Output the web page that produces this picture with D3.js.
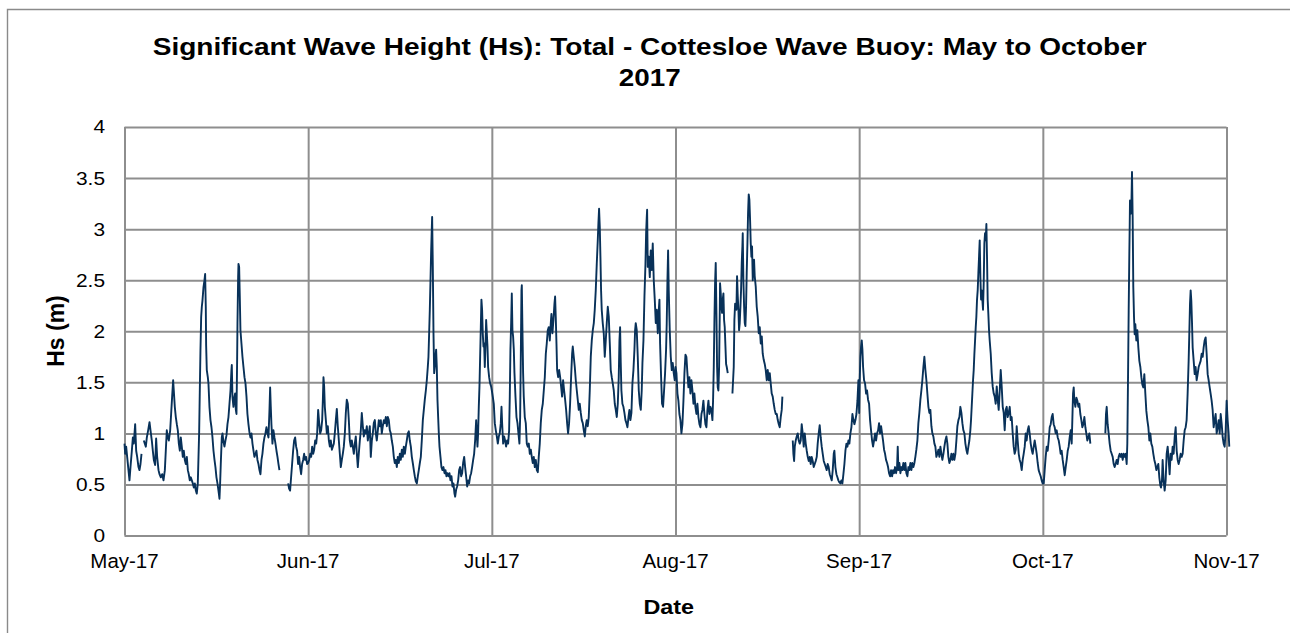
<!DOCTYPE html>
<html>
<head>
<meta charset="utf-8">
<title>Significant Wave Height - Cottesloe Wave Buoy</title>
<script src="https://cdn.jsdelivr.net/npm/d3@7"></script>
<style>
  html, body { margin: 0; padding: 0; background: #ffffff; }
  svg { display: block; font-family: "Liberation Sans", Arial, Helvetica, sans-serif; }
</style>
</head>
<body>
<svg id="chart" width="1290" height="633"></svg>
<script>
// Month boundaries on the date axis and their labels
const monthStarts = ["2017-05-01", "2017-06-01", "2017-07-01", "2017-08-01", "2017-09-01", "2017-10-01", "2017-11-01"];
const xTickLabels = ["May-17", "Jun-17", "Jul-17", "Aug-17", "Sep-17", "Oct-17", "Nov-17"];
const yTicks = [0, 0.5, 1, 1.5, 2, 2.5, 3, 3.5, 4];
const yTickLabels = ["0", "0.5", "1", "1.5", "2", "2.5", "3", "3.5", "4"];

// Hs readings per month: [days since the 1st of the month, Hs in metres]; null marks a data gap
const hsMay = [[0,0.90],[0.11,0.80],[0.28,0.87],[0.45,0.77],[0.67,0.64],[0.84,0.54],[1.01,0.67],[1.24,0.83],[1.41,0.96],[1.57,0.90],[1.80,1.09],[1.97,0.83],[2.14,0.77],[2.36,0.67],[2.53,0.64],[2.70,0.70],[2.87,0.80],[2.95,null],[3.26,0.93],[3.43,0.90],[3.60,0.87],[3.77,0.96],[3.99,1.03],[4.22,1.11],[4.39,1.03],[4.61,0.93],[4.78,0.83],[4.95,0.74],[5.17,0.69],[5.34,0.95],[5.51,0.77],[5.74,0.64],[5.91,0.60],[6.13,0.57],[6.36,0.60],[6.58,0.54],[6.81,0.64],[6.97,0.83],[7.14,1.03],[7.31,0.96],[7.48,0.93],[7.71,1.03],[7.87,1.19],[8.04,1.36],[8.21,1.52],[8.32,1.42],[8.49,1.26],[8.66,1.16],[8.83,1.09],[9.00,1.03],[9.17,0.90],[9.34,0.83],[9.50,0.96],[9.67,0.87],[9.84,0.77],[10.01,0.83],[10.18,0.74],[10.35,0.70],[10.52,0.77],[10.69,0.64],[10.85,0.60],[11.02,0.54],[11.19,0.57],[11.36,0.54],[11.53,0.51],[11.70,0.47],[11.87,0.51],[12.04,0.44],[12.20,0.41],[12.37,0.51],[12.49,0.77],[12.60,1.01],[12.71,1.42],[12.82,1.81],[12.94,2.14],[13.05,2.24],[13.16,2.30],[13.33,2.43],[13.50,2.50],[13.61,2.56],[13.72,2.24],[13.78,1.86],[13.89,1.62],[14.06,1.55],[14.17,1.49],[14.34,1.26],[14.51,1.13],[14.68,1.06],[14.85,0.96],[15.02,0.83],[15.19,0.74],[15.35,0.67],[15.52,0.57],[15.69,0.51],[15.86,0.44],[16.03,0.36],[16.14,0.51],[16.25,0.70],[16.42,0.96],[16.54,1.00],[16.70,0.92],[16.87,0.87],[17.04,0.93],[17.21,0.98],[17.38,1.09],[17.55,1.16],[17.72,1.29],[17.89,1.42],[18.05,1.62],[18.11,1.67],[18.22,1.36],[18.39,1.26],[18.56,1.36],[18.67,1.39],[18.79,1.23],[18.90,1.19],[19.01,1.72],[19.07,2.08],[19.18,2.53],[19.24,2.66],[19.35,2.63],[19.46,2.34],[19.57,2.01],[19.74,1.88],[19.91,1.75],[20.08,1.65],[20.25,1.55],[20.42,1.49],[20.59,1.36],[20.75,1.19],[20.92,1.09],[21.09,1.01],[21.26,0.96],[21.43,1.00],[21.60,0.90],[21.77,0.83],[21.93,0.77],[22.10,0.80],[22.27,0.83],[22.44,0.74],[22.61,0.70],[22.78,0.64],[22.95,0.60],[23.12,0.74],[23.28,0.80],[23.45,0.90],[23.62,0.96],[23.79,1.00],[23.96,1.06],[24.13,1.00],[24.30,0.96],[24.47,1.23],[24.58,1.45],[24.69,1.26],[24.80,1.09],[24.97,0.90],[25.14,1.03],[25.31,0.96],[25.48,0.90],[25.65,0.83],[25.82,0.77],[25.99,0.70],[26.15,0.64],[26.5,null],[27.62,0.51],[27.78,0.46],[27.95,0.44],[28.12,0.57],[28.29,0.70],[28.46,0.83],[28.63,0.93],[28.80,0.96],[28.97,0.87],[29.13,0.83],[29.30,0.70],[29.47,0.77],[29.64,0.67],[29.81,0.60],[29.98,0.70],[30.15,0.74],[30.32,0.80],[30.48,0.74],[30.65,0.77],[30.82,0.70]];

const hsJun = [[0,0.71],[0.16,0.74],[0.33,0.80],[0.49,0.77],[0.65,0.87],[0.82,0.80],[0.98,0.84],[1.14,0.93],[1.31,0.90],[1.47,1.00],[1.63,1.23],[1.80,1.10],[1.96,1.00],[2.12,1.03],[2.29,1.13],[2.40,1.33],[2.50,1.55],[2.61,1.46],[2.72,1.26],[2.89,1.13],[3.05,1.00],[3.21,1.07],[3.38,0.93],[3.54,0.87],[3.70,0.93],[3.87,0.84],[4.03,0.87],[4.19,0.90],[4.35,1.00],[4.52,1.13],[4.68,1.24],[4.84,1.07],[5.01,0.93],[5.17,0.80],[5.33,0.67],[5.50,0.74],[5.66,0.80],[5.82,0.87],[5.99,1.00],[6.15,1.20],[6.31,1.33],[6.48,1.29],[6.64,1.13],[6.80,0.93],[6.97,0.87],[7.13,0.93],[7.29,0.87],[7.46,0.80],[7.62,0.90],[7.78,0.97],[7.95,0.80],[8.11,0.67],[8.27,0.80],[8.44,0.93],[8.60,1.03],[8.76,1.20],[8.93,1.07],[9.09,0.97],[9.25,1.03],[9.42,1.00],[9.58,1.07],[9.74,0.93],[9.91,1.00],[10.07,1.07],[10.23,0.77],[10.40,0.93],[10.56,1.00],[10.72,1.10],[10.89,1.13],[11.05,1.00],[11.21,0.93],[11.38,1.03],[11.54,1.13],[11.70,1.07],[11.87,1.13],[12.03,1.00],[12.19,1.07],[12.36,1.13],[12.52,1.10],[12.68,1.16],[12.85,1.07],[13.01,1.16],[13.17,1.13],[13.34,1.03],[13.50,1.00],[13.66,0.93],[13.83,0.87],[13.99,0.77],[14.15,0.71],[14.32,0.74],[14.48,0.67],[14.64,0.77],[14.81,0.71],[14.97,0.80],[15.13,0.74],[15.30,0.84],[15.46,0.77],[15.62,0.87],[15.79,0.80],[15.95,0.87],[16.11,0.93],[16.28,1.00],[16.44,1.02],[16.60,0.93],[16.77,0.87],[16.93,0.77],[17.09,0.71],[17.26,0.64],[17.42,0.58],[17.58,0.53],[17.75,0.51],[17.91,0.58],[18.07,0.64],[18.24,0.71],[18.40,0.77],[18.56,0.93],[18.73,1.13],[18.89,1.23],[19.05,1.33],[19.22,1.42],[19.38,1.52],[19.54,1.65],[19.65,1.75],[19.76,1.98],[19.87,2.21],[19.98,2.50],[20.09,2.79],[20.20,3.02],[20.25,3.12],[20.36,2.63],[20.47,1.98],[20.58,1.59],[20.69,1.65],[20.79,1.75],[20.90,1.82],[21.01,1.65],[21.12,1.33],[21.23,1.16],[21.34,1.00],[21.45,0.87],[21.61,0.77],[21.77,0.67],[21.94,0.64],[22.10,0.67],[22.27,0.61],[22.43,0.64],[22.59,0.58],[22.76,0.61],[22.92,0.58],[23.08,0.61],[23.24,0.54],[23.41,0.58],[23.57,0.48],[23.73,0.51],[23.90,0.41],[24.01,0.38],[24.17,0.45],[24.33,0.48],[24.50,0.54],[24.66,0.64],[24.82,0.67],[24.99,0.58],[25.15,0.61],[25.31,0.71],[25.48,0.77],[25.64,0.67],[25.80,0.58],[25.97,0.48],[26.13,0.54],[26.29,0.51],[26.46,0.58],[26.62,0.61],[26.78,0.67],[26.95,0.74],[27.11,0.80],[27.27,0.93],[27.44,1.13],[27.54,1.00],[27.65,0.87],[27.76,1.00],[27.87,1.26],[27.98,1.46],[28.09,1.75],[28.20,2.04],[28.30,2.31],[28.41,2.21],[28.52,1.98],[28.63,1.85],[28.74,1.88],[28.85,1.65],[28.96,1.85],[29.07,2.11],[29.18,1.98],[29.29,1.85],[29.39,1.65],[29.56,1.55],[29.72,1.49],[29.88,1.46]];

const hsJul = [[0,1.42],[0.16,1.36],[0.33,1.29],[0.50,1.10],[0.67,1.03],[0.84,0.97],[1.01,0.90],[1.18,0.97],[1.34,1.00],[1.51,1.10],[1.63,1.26],[1.74,1.10],[1.91,0.90],[2.08,0.97],[2.24,0.93],[2.41,0.87],[2.58,0.93],[2.75,0.90],[2.92,1.03],[3.03,1.36],[3.14,1.82],[3.26,2.08],[3.37,2.37],[3.48,2.01],[3.59,1.95],[3.71,1.82],[3.82,1.59],[3.99,1.36],[4.16,1.16],[4.33,1.10],[4.49,1.00],[4.66,0.90],[4.78,1.16],[4.89,1.75],[5.00,2.40],[5.06,2.45],[5.17,2.01],[5.28,1.59],[5.39,1.36],[5.56,1.16],[5.73,1.10],[5.90,0.90],[6.07,0.87],[6.24,0.90],[6.41,0.80],[6.58,0.84],[6.74,0.77],[6.91,0.71],[7.08,0.77],[7.25,0.67],[7.42,0.74],[7.59,0.64],[7.76,0.62],[7.92,0.77],[8.09,0.90],[8.26,1.10],[8.43,1.23],[8.60,1.29],[8.77,1.42],[8.94,1.55],[9.11,1.78],[9.27,1.88],[9.44,2.01],[9.61,2.04],[9.78,1.91],[9.95,2.08],[10.06,2.17],[10.23,1.98],[10.40,2.11],[10.57,2.27],[10.68,2.34],[10.79,2.14],[10.91,1.88],[11.02,1.62],[11.19,1.55],[11.36,1.62],[11.53,1.55],[11.69,1.46],[11.86,1.36],[12.03,1.52],[12.20,1.42],[12.37,1.33],[12.54,1.23],[12.71,1.10],[12.87,1.00],[13.04,1.10],[13.21,1.29],[13.38,1.55],[13.55,1.78],[13.66,1.85],[13.83,1.75],[14.00,1.65],[14.17,1.52],[14.34,1.42],[14.50,1.33],[14.67,1.23],[14.84,1.29],[15.01,1.20],[15.18,1.13],[15.35,1.10],[15.52,1.03],[15.69,0.97],[15.85,1.07],[16.02,1.13],[16.19,1.07],[16.36,1.16],[16.53,1.42],[16.70,1.75],[16.87,1.91],[17.04,2.01],[17.21,2.08],[17.37,2.21],[17.54,2.40],[17.71,2.66],[17.88,2.89],[17.99,3.06],[18.10,3.20],[18.22,3.02],[18.33,2.73],[18.44,2.40],[18.55,2.21],[18.72,2.08],[18.89,1.98],[19.06,1.75],[19.23,1.91],[19.40,2.08],[19.57,2.24],[19.74,2.14],[19.91,1.88],[20.07,1.62],[20.24,1.55],[20.41,1.49],[20.58,1.42],[20.75,1.29],[20.92,1.23],[21.09,1.16],[21.26,1.29],[21.42,1.55],[21.54,1.91],[21.65,2.04],[21.76,1.69],[21.87,1.42],[22.04,1.29],[22.21,1.26],[22.38,1.20],[22.55,1.13],[22.72,1.10],[22.89,1.06],[23.06,1.16],[23.22,1.23],[23.39,1.13],[23.56,1.20],[23.73,1.49],[23.90,1.62],[24.07,1.82],[24.18,2.01],[24.29,2.08],[24.46,2.01],[24.63,1.75],[24.80,1.42],[24.97,1.29],[25.14,1.23],[25.30,1.42],[25.42,1.69],[25.59,1.91],[25.76,2.34],[25.93,2.66],[26.04,2.96],[26.15,3.12],[26.21,3.19],[26.32,2.63],[26.49,2.73],[26.66,2.53],[26.82,2.79],[26.99,2.60],[27.16,2.86],[27.33,2.50],[27.50,2.31],[27.67,2.08],[27.84,2.21],[28.01,1.98],[28.18,2.21],[28.29,2.31],[28.40,1.88],[28.57,1.55],[28.73,1.29],[28.90,1.26],[29.07,1.42],[29.24,1.59],[29.41,1.82],[29.52,2.08],[29.64,2.50],[29.75,2.79],[29.86,2.40],[30.03,2.01],[30.20,1.75],[30.37,1.62],[30.53,1.69],[30.70,1.59],[30.87,1.52]];

const hsAug = [[0,1.65],[0.16,1.59],[0.33,1.39],[0.49,1.32],[0.66,1.19],[0.83,1.13],[1.00,1.00],[1.17,1.09],[1.34,1.32],[1.51,1.59],[1.68,1.77],[1.84,1.75],[2.01,1.59],[2.18,1.45],[2.35,1.55],[2.52,1.39],[2.69,1.52],[2.86,1.42],[3.03,1.29],[3.19,1.39],[3.36,1.26],[3.53,1.19],[3.70,1.29],[3.87,1.16],[4.04,1.09],[4.21,1.06],[4.38,1.19],[4.54,1.23],[4.71,1.32],[4.88,1.19],[5.05,1.09],[5.22,1.06],[5.39,1.23],[5.56,1.32],[5.73,1.19],[5.89,1.26],[6.06,1.23],[6.23,1.13],[6.34,1.32],[6.46,1.65],[6.57,2.11],[6.68,2.47],[6.79,2.67],[6.91,2.18],[7.02,1.65],[7.13,1.45],[7.24,1.42],[7.36,1.65],[7.47,2.18],[7.52,2.47],[7.64,2.37],[7.75,2.24],[7.86,2.18],[7.97,2.31],[8.09,2.37],[8.20,2.11],[8.31,2.04],[8.43,1.85],[8.54,1.68],[8.65,1.65],[8.82,1.59],[9.0,null],[9.61,1.39],[9.72,1.52],[9.83,1.65],[9.94,2.11],[10.06,2.27],[10.17,2.24],[10.28,2.21],[10.39,2.54],[10.51,2.34],[10.62,2.21],[10.73,2.01],[10.84,2.08],[10.96,2.24],[11.07,2.41],[11.18,2.67],[11.29,2.83],[11.35,2.96],[11.46,2.50],[11.58,2.24],[11.69,2.08],[11.80,2.05],[11.91,2.24],[12.02,2.57],[12.14,2.86],[12.25,3.16],[12.36,3.34],[12.47,3.29],[12.59,3.09],[12.70,2.86],[12.81,2.73],[12.92,2.83],[13.04,2.50],[13.15,2.63],[13.26,2.70],[13.37,2.54],[13.54,2.44],[13.71,2.24],[13.88,2.14],[14.05,1.98],[14.22,2.04],[14.39,1.88],[14.56,1.95],[14.72,1.78],[14.89,1.72],[15.06,1.68],[15.23,1.62],[15.40,1.52],[15.57,1.62],[15.74,1.52],[15.91,1.59],[16.07,1.49],[16.24,1.39],[16.41,1.36],[16.58,1.29],[16.75,1.23],[16.92,1.19],[17.09,1.19],[17.26,1.13],[17.43,1.09],[17.59,1.06],[17.76,1.16],[17.93,1.23],[18.04,1.36],[18.5,null],[19.79,0.93],[19.90,0.80],[20.02,0.73],[20.13,0.87],[20.29,0.93],[20.46,0.97],[20.63,1.00],[20.80,0.93],[20.97,0.90],[21.14,0.93],[21.30,1.09],[21.47,1.00],[21.64,0.87],[21.81,1.00],[21.98,0.90],[22.15,0.83],[22.32,0.77],[22.49,0.73],[22.65,0.77],[22.82,0.70],[22.99,0.77],[23.16,0.73],[23.33,0.67],[23.50,0.70],[23.67,0.73],[23.84,0.77],[24.00,0.90],[24.17,1.00],[24.34,1.08],[24.51,0.96],[24.68,0.87],[24.85,0.80],[25.02,0.73],[25.19,0.70],[25.36,0.67],[25.52,0.64],[25.69,0.70],[25.86,0.67],[26.03,0.60],[26.20,0.57],[26.37,0.54],[26.54,0.64],[26.71,0.80],[26.82,0.83],[26.99,0.67],[27.16,0.60],[27.33,0.57],[27.49,0.54],[27.66,0.52],[27.83,0.51],[28.00,0.54],[28.17,0.51],[28.34,0.60],[28.51,0.70],[28.68,0.83],[28.85,0.90],[29.02,0.87],[29.18,0.93],[29.35,0.90],[29.52,1.00],[29.69,1.06],[29.86,1.19],[30.03,1.13],[30.20,1.09],[30.37,1.13],[30.54,1.19],[30.71,1.32],[30.87,1.52]];

const hsSep = [[0,1.20],[0.09,1.52],[0.20,1.75],[0.31,1.85],[0.42,1.91],[0.53,1.82],[0.64,1.65],[0.80,1.52],[0.96,1.49],[1.13,1.39],[1.29,1.42],[1.45,1.33],[1.62,1.29],[1.78,1.13],[1.94,1.03],[2.11,0.93],[2.27,0.87],[2.43,0.93],[2.60,1.00],[2.76,0.93],[2.92,1.00],[3.09,1.03],[3.25,1.10],[3.41,1.00],[3.58,1.07],[3.74,1.00],[3.90,0.93],[4.07,0.84],[4.23,0.80],[4.39,0.74],[4.56,0.71],[4.72,0.67],[4.88,0.61],[5.05,0.58],[5.21,0.64],[5.38,0.58],[5.54,0.64],[5.70,0.61],[5.86,0.67],[6.03,0.61],[6.19,0.67],[6.30,0.87],[6.41,0.64],[6.57,0.71],[6.74,0.61],[6.90,0.67],[7.06,0.64],[7.22,0.71],[7.39,0.64],[7.55,0.71],[7.71,0.61],[7.88,0.58],[8.04,0.67],[8.20,0.64],[8.37,0.71],[8.53,0.64],[8.69,0.71],[8.86,0.67],[9.02,0.71],[9.18,0.77],[9.34,0.84],[9.51,0.93],[9.67,1.10],[9.83,1.20],[10.00,1.33],[10.16,1.42],[10.32,1.52],[10.49,1.65],[10.65,1.75],[10.82,1.62],[10.98,1.52],[11.14,1.39],[11.31,1.26],[11.47,1.20],[11.63,1.23],[11.80,1.07],[11.96,1.00],[12.12,0.97],[12.29,0.90],[12.45,0.87],[12.61,0.77],[12.78,0.80],[12.94,0.84],[13.10,0.77],[13.27,0.87],[13.43,0.80],[13.59,0.74],[13.76,0.80],[13.92,0.87],[14.08,0.93],[14.25,0.97],[14.41,0.90],[14.57,0.77],[14.74,0.71],[14.90,0.74],[15.06,0.80],[15.23,0.74],[15.39,0.80],[15.55,0.74],[15.72,0.80],[15.88,0.93],[16.04,1.07],[16.21,1.13],[16.37,1.16],[16.53,1.26],[16.70,1.20],[16.86,1.10],[17.02,1.03],[17.19,1.00],[17.35,0.90],[17.51,0.84],[17.67,0.80],[17.84,0.87],[18.00,0.93],[18.16,1.03],[18.27,1.13],[18.38,1.26],[18.49,1.39],[18.60,1.52],[18.71,1.62],[18.82,1.78],[18.93,1.91],[19.04,2.04],[19.14,2.14],[19.25,2.31],[19.36,2.40],[19.47,2.57],[19.58,2.73],[19.69,2.89],[19.80,2.53],[19.91,2.31],[20.02,2.40],[20.12,2.31],[20.23,2.21],[20.34,2.47],[20.45,2.86],[20.56,2.96],[20.67,2.89],[20.78,3.05],[20.89,2.70],[20.99,2.31],[21.10,2.17],[21.21,2.01],[21.32,1.91],[21.49,1.78],[21.65,1.59],[21.81,1.46],[21.98,1.39],[22.14,1.36],[22.30,1.29],[22.47,1.46],[22.63,1.33],[22.79,1.23],[22.96,1.42],[23.12,1.62],[23.28,1.46],[23.45,1.26],[23.61,1.20],[23.77,1.03],[23.94,1.23],[24.10,1.26],[24.26,1.16],[24.42,1.20],[24.59,1.26],[24.75,1.13],[24.91,1.16],[25.08,1.00],[25.24,0.87],[25.40,0.80],[25.57,0.84],[25.73,1.07],[25.89,0.93],[26.06,0.80],[26.22,0.74],[26.38,0.71],[26.55,0.64],[26.71,0.74],[26.87,0.80],[27.04,0.87],[27.20,1.00],[27.36,0.93],[27.53,1.03],[27.69,1.07],[27.85,1.00],[28.02,0.90],[28.18,0.84],[28.34,0.80],[28.51,0.87],[28.67,0.93],[28.83,0.87],[29.00,0.80],[29.16,0.71],[29.32,0.64],[29.48,0.61],[29.65,0.58],[29.81,0.54],[29.97,0.51]];

const hsOct = [[0,0.54],[0.15,0.51],[0.31,0.64],[0.48,0.77],[0.65,0.87],[0.82,0.83],[0.99,0.93],[1.16,1.06],[1.33,1.09],[1.50,1.16],[1.66,1.19],[1.83,1.09],[2.00,1.06],[2.17,1.00],[2.34,1.03],[2.51,0.96],[2.68,0.93],[2.85,0.87],[3.01,0.80],[3.18,0.83],[3.35,0.74],[3.52,0.67],[3.69,0.59],[3.86,0.67],[4.03,0.74],[4.20,0.83],[4.36,0.87],[4.53,0.96],[4.70,1.03],[4.87,0.90],[4.98,1.13],[5.10,1.39],[5.21,1.45],[5.32,1.32],[5.49,1.26],[5.66,1.35],[5.83,1.32],[6.00,1.26],[6.16,1.29],[6.33,1.19],[6.50,1.13],[6.67,1.06],[6.84,1.09],[7.01,1.16],[7.18,1.06],[7.34,1.00],[7.51,0.93],[7.68,0.96],[7.85,1.00],[8.02,0.90],[8.5,null],[10.55,1.00],[10.66,1.19],[10.78,1.26],[10.94,1.09],[11.11,1.00],[11.28,0.90],[11.45,0.83],[11.62,0.80],[11.79,0.77],[11.96,0.70],[12.12,0.67],[12.29,0.70],[12.46,0.74],[12.63,0.70],[12.80,0.77],[12.97,0.80],[13.14,0.77],[13.31,0.80],[13.48,0.74],[13.64,0.80],[13.81,0.77],[13.98,0.80],[14.15,0.70],[14.26,0.90],[14.38,1.55],[14.49,2.20],[14.60,2.76],[14.66,3.02],[14.71,3.28],[14.83,3.15],[14.94,3.21],[15.05,3.56],[15.16,3.12],[15.27,2.43],[15.39,2.14],[15.50,1.97],[15.61,2.07],[15.78,1.91],[15.95,2.01],[16.12,1.84],[16.29,1.71],[16.46,1.65],[16.63,1.55],[16.79,1.48],[16.96,1.45],[17.13,1.58],[17.30,1.39],[17.47,1.22],[17.64,1.13],[17.81,1.06],[17.98,0.93],[18.14,1.00],[18.31,0.90],[18.48,0.87],[18.65,0.80],[18.82,0.74],[18.99,0.70],[19.16,0.64],[19.32,0.67],[19.49,0.70],[19.66,0.57],[19.83,0.49],[19.94,0.47],[20.11,0.54],[20.22,0.74],[20.39,0.54],[20.56,0.44],[20.73,0.54],[20.90,0.80],[21.07,0.87],[21.24,0.74],[21.40,0.60],[21.57,0.80],[21.74,0.74],[21.91,0.87],[22.08,0.80],[22.25,0.96],[22.42,1.06],[22.59,0.83],[22.76,0.74],[22.92,0.70],[23.09,0.74],[23.26,0.80],[23.43,0.77],[23.60,0.80],[23.77,0.93],[23.94,1.03],[24.11,1.06],[24.27,1.13],[24.44,1.39],[24.61,1.71],[24.72,1.97],[24.84,2.27],[24.95,2.40],[25.06,2.30],[25.17,2.10],[25.29,1.84],[25.46,1.71],[25.63,1.58],[25.79,1.65],[25.96,1.52],[26.13,1.58],[26.30,1.65],[26.47,1.68],[26.64,1.71],[26.81,1.78],[26.98,1.75],[27.14,1.84],[27.31,1.91],[27.48,1.94],[27.65,1.78],[27.82,1.58],[27.99,1.52],[28.16,1.45],[28.32,1.39],[28.49,1.32],[28.66,1.23],[28.83,1.06],[29.00,1.13],[29.17,1.19],[29.34,1.00],[29.51,1.06],[29.68,1.13],[29.85,1.00],[30.02,1.19],[30.19,1.09],[30.36,0.96],[30.52,0.90],[30.69,0.87],[30.86,1.03],[31.02,1.32],[31.19,1.13],[31.36,1.00],[31.47,0.87]];

const monthlyHs = [hsMay, hsJun, hsJul, hsAug, hsSep, hsOct];
const titleLines = ["Significant Wave Height (Hs): Total - Cottesloe Wave Buoy: May to October", "2017"];
const xAxisTitle = "Date";
const yAxisTitle = "Hs (m)";

// ---- layout ----
const W = 1290, H = 633;
const plot = { left: 124.5, right: 1226.5, top: 127, bottom: 535.5 };
const gridColor = "#8e8e8e";
const lineColor = "#083159";

const svg = d3.select("#chart");
svg.append("rect").attr("width", W).attr("height", H).attr("fill", "#ffffff");

// chart frame (runs off the right and bottom edges of the page)
svg.append("path")
  .attr("d", `M7.5,${H + 5}V9.5H${W + 5}`)
  .attr("fill", "none")
  .attr("stroke", "#8a8a8a")
  .attr("stroke-width", 1.4);

// Date axis: each calendar month gets an equal slot
const monthDates = monthStarts.map(s => new Date(s + "T00:00:00Z"));
const monthStep = (plot.right - plot.left) / (monthDates.length - 1);
const x = d3.scaleUtc()
  .domain(monthDates)
  .range(monthDates.map((d, i) => plot.left + i * monthStep));

const y = d3.scaleLinear().domain([0, 4]).range([plot.bottom, plot.top]);

// horizontal gridlines
svg.append("g")
  .attr("transform", `translate(${plot.left},0)`)
  .call(d3.axisLeft(y).tickValues(yTicks).tickSize(-(plot.right - plot.left)).tickFormat(""))
  .call(g => g.select(".domain").remove())
  .call(g => g.selectAll("line").attr("stroke", gridColor).attr("stroke-width", 2));

// vertical gridlines at month starts
svg.append("g")
  .attr("transform", `translate(0,${plot.bottom})`)
  .call(d3.axisBottom(x).tickValues(monthDates).tickSize(-(plot.bottom - plot.top)).tickFormat(""))
  .call(g => g.select(".domain").remove())
  .call(g => g.selectAll("line").attr("stroke", gridColor).attr("stroke-width", 2));

// wave height series
const series = monthlyHs.flatMap((arr, i) =>
  arr.map(([day, hs]) => ({
    date: new Date(monthDates[i].getTime() + day * 864e5),
    hs: hs
  })));

const line = d3.line()
  .defined(d => d.hs !== null)
  .x(d => x(d.date))
  .y(d => y(d.hs));

svg.append("path")
  .datum(series)
  .attr("d", line)
  .attr("fill", "none")
  .attr("stroke", lineColor)
  .attr("stroke-width", 1.9)
  .attr("stroke-linejoin", "round");

// y tick labels
svg.append("g")
  .selectAll("text")
  .data(yTicks)
  .join("text")
  .attr("transform", d => `translate(105,${y(d)}) scale(1.16,1)`)
  .attr("dy", "0.36em")
  .attr("text-anchor", "end")
  .attr("font-size", 18)
  .attr("fill", "#000")
  .text((d, i) => yTickLabels[i]);

// x tick labels
svg.append("g")
  .selectAll("text")
  .data(monthDates)
  .join("text")
  .attr("x", d => x(d))
  .attr("y", 567.5)
  .attr("text-anchor", "middle")
  .attr("font-size", 20.5)
  .attr("fill", "#000")
  .text((d, i) => xTickLabels[i]);

// title
const title = svg.append("g").attr("font-weight", "bold").attr("font-size", 24).attr("fill", "#000");
title.append("text")
  .attr("x", 649.7).attr("y", 55)
  .attr("text-anchor", "middle")
  .attr("textLength", 994)
  .attr("lengthAdjust", "spacingAndGlyphs")
  .text(titleLines[0]);
title.append("text")
  .attr("transform", "translate(649.7,86) scale(1.16,1)")
  .attr("text-anchor", "middle")
  .text(titleLines[1]);

// axis titles
svg.append("text")
  .attr("transform", "translate(668.7,614) scale(1.14,1)")
  .attr("text-anchor", "middle")
  .attr("font-weight", "bold")
  .attr("font-size", 20.5)
  .attr("fill", "#000")
  .text(xAxisTitle);

svg.append("text")
  .attr("transform", "translate(63.5,331) rotate(-90)")
  .attr("text-anchor", "middle")
  .attr("font-weight", "bold")
  .attr("font-size", 23)
  .attr("fill", "#000")
  .text(yAxisTitle);
</script>
</body>
</html>
